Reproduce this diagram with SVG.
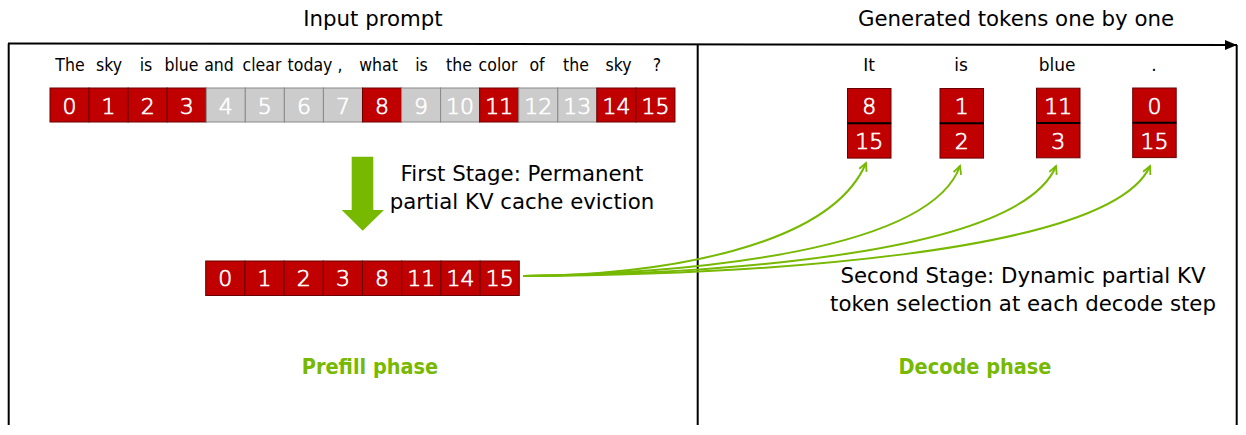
<svg xmlns="http://www.w3.org/2000/svg" width="1246" height="435" viewBox="0 0 1246 435">
<defs>
<style>
.t{font-family:"DejaVu Sans","Liberation Sans",sans-serif;fill:#000;}
.title{font-size:21.3px;text-anchor:middle;}
.word{font-family:"DejaVu Sans Condensed","DejaVu Sans",sans-serif;font-stretch:condensed;font-size:17.5px;text-anchor:middle;}
.dword{font-size:17px;text-anchor:middle;}
.num{font-family:"DejaVu Sans","Liberation Sans",sans-serif;font-weight:200;font-size:22px;fill:#fff;stroke:#fff;stroke-width:0.7;text-anchor:middle;}
.red{fill:#c00000;stroke:#6a0000;stroke-width:1;}
.gray{fill:#cccccc;stroke:#8a8a8a;stroke-width:1;}
.stage{font-size:21.3px;text-anchor:middle;}
.phase{font-family:"DejaVu Sans Condensed","DejaVu Sans",sans-serif;font-stretch:condensed;font-weight:bold;font-size:21.5px;fill:#76b900;text-anchor:middle;}
.frame{stroke:#000;stroke-width:2;fill:none;}
.curve{fill:none;stroke:#76b900;stroke-width:2;}
</style>
<marker id="ah" markerWidth="12" markerHeight="12" refX="9" refY="5" orient="auto" markerUnits="userSpaceOnUse">
<path d="M1,1 L9,5 L1,9" fill="none" stroke="#76b900" stroke-width="1.8"/>
</marker>
<marker id="blk" markerWidth="14" markerHeight="12" refX="12" refY="6" orient="auto" markerUnits="userSpaceOnUse">
<path d="M0,1 L12,6 L0,11 Z" fill="#000"/>
</marker>
</defs>
<rect width="1246" height="435" fill="#fff"/>

<g id="frame">
<line class="frame" x1="8" y1="43.5" x2="1237" y2="45" marker-end="url(#blk)"/>
<line class="frame" x1="8.7" y1="43.5" x2="8.7" y2="425"/>
<line class="frame" x1="697.7" y1="44" x2="697.7" y2="425"/>
<line class="frame" x1="1236.7" y1="45" x2="1236.7" y2="425"/>
</g>

<g id="titles">
<text class="t title" x="373" y="26">Input prompt</text>
<text class="t title" x="1016" y="26">Generated tokens one by one</text>
</g>

<g id="prompt-words">
<text class="t word" x="70" y="71">The</text>
<text class="t word" x="109" y="71">sky</text>
<text class="t word" x="146" y="71">is</text>
<text class="t word" x="181.5" y="71">blue</text>
<text class="t word" x="219" y="71">and</text>
<text class="t word" x="262" y="71">clear</text>
<text class="t word" x="310" y="71">today</text>
<text class="t word" x="340" y="71">,</text>
<text class="t word" x="378.5" y="71">what</text>
<text class="t word" x="421.5" y="71">is</text>
<text class="t word" x="459" y="71">the</text>
<text class="t word" x="498" y="71">color</text>
<text class="t word" x="537" y="71">of</text>
<text class="t word" x="576" y="71">the</text>
<text class="t word" x="618.5" y="71">sky</text>
<text class="t word" x="657" y="71">?</text>
</g>

<g id="prompt-bar">
<rect class="red" x="50" y="88" width="39.06" height="34"/><text class="num" x="69.5" y="113.5">0</text>
<rect class="red" x="89.06" y="88" width="39.06" height="34"/><text class="num" x="108.6" y="113.5">1</text>
<rect class="red" x="128.12" y="88" width="39.06" height="34"/><text class="num" x="147.7" y="113.5">2</text>
<rect class="red" x="167.18" y="88" width="39.06" height="34"/><text class="num" x="186.7" y="113.5">3</text>
<rect class="gray" x="206.24" y="88" width="39.06" height="34"/><text class="num" x="225.8" y="113.5">4</text>
<rect class="gray" x="245.3" y="88" width="39.06" height="34"/><text class="num" x="264.8" y="113.5">5</text>
<rect class="gray" x="284.36" y="88" width="39.06" height="34"/><text class="num" x="303.9" y="113.5">6</text>
<rect class="gray" x="323.42" y="88" width="39.06" height="34"/><text class="num" x="343" y="113.5">7</text>
<rect class="red" x="362.48" y="88" width="39.06" height="34"/><text class="num" x="382" y="113.5">8</text>
<rect class="gray" x="401.54" y="88" width="39.06" height="34"/><text class="num" x="421.1" y="113.5">9</text>
<rect class="gray" x="440.6" y="88" width="39.06" height="34"/><text class="num" x="460.1" y="113.5">10</text>
<rect class="red" x="479.66" y="88" width="39.06" height="34"/><text class="num" x="499.2" y="113.5">11</text>
<rect class="gray" x="518.72" y="88" width="39.06" height="34"/><text class="num" x="538.3" y="113.5">12</text>
<rect class="gray" x="557.78" y="88" width="39.06" height="34"/><text class="num" x="577.3" y="113.5">13</text>
<rect class="red" x="596.84" y="88" width="39.06" height="34"/><text class="num" x="616.4" y="113.5">14</text>
<rect class="red" x="635.9" y="88" width="39.06" height="34"/><text class="num" x="655.4" y="113.5">15</text>
</g>

<g id="first-stage">
<polygon points="351.7,156.7 373.3,156.7 373.3,210 384,210 362.7,230.7 341.7,210 351.7,210" fill="#76b900"/>
<text class="t stage" x="522" y="181">First Stage: Permanent</text>
<text class="t stage" x="522" y="209">partial KV cache eviction</text>
</g>

<g id="kept-bar">
<rect class="red" x="205.7" y="261" width="39.2" height="34.5"/><text class="num" x="225.3" y="286">0</text>
<rect class="red" x="244.9" y="261" width="39.2" height="34.5"/><text class="num" x="264.5" y="286">1</text>
<rect class="red" x="284.1" y="261" width="39.2" height="34.5"/><text class="num" x="303.7" y="286">2</text>
<rect class="red" x="323.3" y="261" width="39.2" height="34.5"/><text class="num" x="342.9" y="286">3</text>
<rect class="red" x="362.5" y="261" width="39.2" height="34.5"/><text class="num" x="382.1" y="286">8</text>
<rect class="red" x="401.7" y="261" width="39.2" height="34.5"/><text class="num" x="421.3" y="286">11</text>
<rect class="red" x="440.9" y="261" width="39.2" height="34.5"/><text class="num" x="460.5" y="286">14</text>
<rect class="red" x="480.1" y="261" width="39.2" height="34.5"/><text class="num" x="499.7" y="286">15</text>
</g>

<g id="decode-words">
<text class="t dword" x="869" y="71">It</text>
<text class="t dword" x="961" y="71">is</text>
<text class="t dword" x="1057" y="71">blue</text>
<text class="t dword" x="1154" y="71">.</text>
</g>

<g id="tok-it">
<rect class="red" x="847.5" y="88.5" width="43.5" height="34.8" stroke="#444"/>
<rect class="red" x="847.5" y="123.3" width="43.5" height="34.8" stroke="#444"/>
<line x1="847.5" y1="123.3" x2="891" y2="123.3" stroke="#000" stroke-width="2"/>
<text class="num" x="869.2" y="114">8</text><text class="num" x="869.2" y="148.5">15</text>
</g>
<g id="tok-is">
<rect class="red" x="940" y="88.5" width="43.5" height="34.8" stroke="#444"/>
<rect class="red" x="940" y="123.3" width="43.5" height="34.8" stroke="#444"/>
<line x1="940" y1="123.3" x2="983.5" y2="123.3" stroke="#000" stroke-width="2"/>
<text class="num" x="961.7" y="114">1</text><text class="num" x="961.7" y="148.5">2</text>
</g>
<g id="tok-blue">
<rect class="red" x="1036.5" y="88.2" width="43.5" height="34.8" stroke="#444"/>
<rect class="red" x="1036.5" y="123" width="43.5" height="34.8" stroke="#444"/>
<line x1="1036.5" y1="123" x2="1080" y2="123" stroke="#000" stroke-width="2"/>
<text class="num" x="1058.2" y="114">11</text><text class="num" x="1058.2" y="148.5">3</text>
</g>
<g id="tok-dot">
<rect class="red" x="1132.7" y="88" width="43.5" height="34.8" stroke="#444"/>
<rect class="red" x="1132.7" y="122.8" width="43.5" height="34.8" stroke="#444"/>
<line x1="1132.7" y1="122.8" x2="1176.2" y2="122.8" stroke="#000" stroke-width="2"/>
<text class="num" x="1154.4" y="114">0</text><text class="num" x="1154.4" y="148.5">15</text>
</g>

<g id="connectors">
<path class="curve" d="M523 276 C660 275, 830 248, 866 163" marker-end="url(#ah)"/>
<path class="curve" d="M523 276 C700 273, 930 250, 960 166" marker-end="url(#ah)"/>
<path class="curve" d="M523 276 C720 274, 1020 254, 1056 166" marker-end="url(#ah)"/>
<path class="curve" d="M523 276 C740 275, 1110 256, 1150 166" marker-end="url(#ah)"/>
</g>

<g id="second-stage">
<text class="t stage" x="1023" y="283">Second Stage: Dynamic partial KV</text>
<text class="t stage" x="1023" y="311">token selection at each decode step</text>
</g>

<g id="phases">
<text class="phase" x="370" y="374">Prefill phase</text>
<text class="phase" x="975" y="374">Decode phase</text>
</g>
</svg>
